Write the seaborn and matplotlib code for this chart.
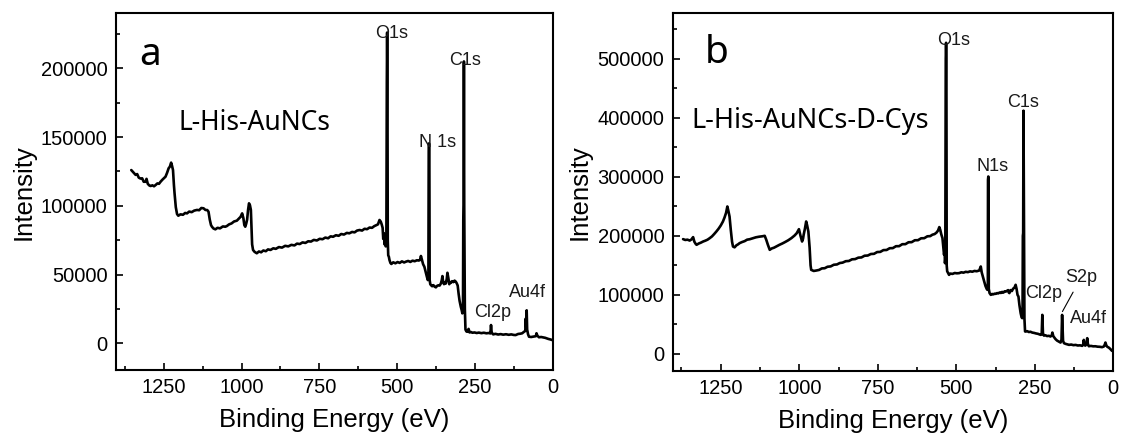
import pandas as pd
import matplotlib
matplotlib.use("Agg")
import matplotlib.pyplot as plt
from matplotlib.ticker import MultipleLocator
import seaborn as sns

# XPS survey spectrum, panel a (L-His-AuNCs): binding energy (eV) / intensity
a_energy = [1354, 1346, 1340, 1335, 1330, 1324, 1319, 1314, 1308, 1305, 1301, 1296, 1292,
            1286, 1281, 1276, 1270, 1265, 1260, 1254, 1249, 1244, 1239, 1234, 1230, 1226,
            1223, 1220, 1217, 1215, 1211, 1207, 1203, 1196, 1188, 1181, 1175, 1168, 1160,
            1152, 1143, 1136, 1129, 1122, 1116, 1110, 1106, 1102, 1098, 1095, 1090, 1084,
            1077, 1069, 1060, 1052, 1047, 1040, 1032, 1024, 1015, 1008, 1003, 998, 994, 991,
            988, 985, 982, 979, 976, 973, 970, 968, 966, 963, 958, 951, 944, 937, 930, 922,
            915, 907, 898, 890, 880, 870, 860, 850, 840, 830, 822, 813, 804, 795, 786, 777,
            768, 758, 749, 740, 731, 722, 714, 706, 697, 688, 680, 671, 662, 654, 645, 637,
            629, 621, 613, 605, 597, 589, 581, 574, 567, 562, 557, 553, 550, 547, 545, 543,
            541, 539, 537, 535, 533.5, 532.5, 531.5, 530.5, 529, 527, 525, 522, 519, 513,
            506, 499, 492, 485, 478, 472, 465, 458, 451, 444, 437, 431, 427, 424, 421, 417,
            413, 409, 405, 402, 400, 399, 398, 397, 396, 394, 392, 388, 384, 380, 376, 372,
            368, 364, 360, 357, 355, 353, 350, 347, 344, 341, 339, 336, 333, 330, 328, 324,
            320, 316, 312, 309, 306, 303, 300, 296, 293, 291, 289, 288, 287, 286, 285, 284,
            283, 281, 278, 275, 271, 268, 263, 259, 252, 245, 238, 230, 222, 214, 206, 201,
            199, 197, 195, 192, 185, 176, 168, 160, 151, 142, 134, 126, 120, 112, 105, 99,
            93, 89, 87.5, 86.5, 84.5, 83, 80, 77, 70, 62, 55, 53, 50, 45, 38, 32, 25, 15, 8, 3]
a_intensity = [126000, 124000, 122500, 123100, 120500, 119800, 120000, 117500, 117500, 119600,
               116000, 114800, 114400, 114900, 114200, 115100, 116300, 116000, 117500, 119000,
               120100, 121200, 124000, 127300, 128500, 131400, 129000, 126000, 115000, 109100,
               99000, 94000, 92800, 93800, 93500, 94800, 94500, 95800, 95400, 96500, 97000,
               96800, 98400, 98200, 97000, 96900, 95700, 90000, 86000, 84800, 83500, 82900,
               84000, 83600, 85000, 84800, 85300, 86500, 87200, 88600, 89200, 90900, 92000,
               94500, 91000, 86000, 84800, 87000, 90000, 97000, 101800, 100500, 97000, 85000,
               72000, 67900, 66500, 65500, 66800, 66200, 67500, 67000, 68300, 67900, 69100,
               68700, 70000, 69600, 70900, 70500, 71600, 71200, 72500, 72200, 73400, 73000,
               74200, 74000, 75200, 74800, 76000, 75700, 76900, 76400, 77800, 77500, 78600,
               78200, 79500, 79100, 80300, 80000, 81000, 80700, 82000, 82400, 82000, 83300,
               83000, 84200, 84000, 85200, 86000, 86500, 89700, 88500, 86500, 84000, 76000,
               80000, 72000, 76000, 70500, 74000, 190000, 226000, 190000, 75000, 64000, 63000,
               60600, 58500, 57700, 58900, 58200, 59100, 58500, 59600, 58800, 59400, 59900,
               59200, 60100, 59700, 60400, 60200, 60600, 63500, 61000, 57500, 55700, 52000,
               48500, 46000, 47000, 140000, 145400, 140000, 46000, 43000, 42400, 41500, 42300,
               41200, 40700, 41800, 42200, 42000, 43500, 46000, 48900, 45000, 43000, 44500,
               43500, 47000, 51300, 47500, 43000, 44500, 44000, 45200, 44500, 45600, 44800,
               43600, 42000, 36000, 31000, 26600, 24000, 21800, 24000, 90000, 100600, 205000,
               100000, 60000, 25000, 10000, 8600, 8400, 10500, 7900, 8200, 7700, 7900, 7500,
               7800, 7400, 7700, 7300, 7500, 7200, 13300, 8000, 7300, 6500, 6900, 6400, 6700,
               6300, 6600, 6200, 6500, 6100, 6000, 6800, 7000, 7300, 8400, 9000, 18000, 12000,
               24000, 10000, 6500, 4800, 4600, 4900, 5200, 7300, 5500, 4400, 4600, 4300, 4000,
               3200, 2800, 2400]

# panel b (L-His-AuNCs-D-Cys)
b_energy = [1370, 1363, 1356, 1349, 1343, 1338, 1334, 1330, 1327, 1320, 1313, 1306, 1299,
            1292, 1285, 1278, 1271, 1264, 1257, 1250, 1243, 1238, 1233, 1229, 1226, 1222,
            1218, 1214, 1211, 1206, 1200, 1195, 1190, 1182, 1174, 1166, 1158, 1147, 1138,
            1128, 1118, 1110, 1105, 1100, 1094, 1088, 1080, 1071, 1063, 1054, 1045, 1035,
            1025, 1015, 1008, 1001, 996, 991, 988, 986, 982, 978, 975, 971, 967, 964, 962,
            954, 946, 937, 928, 919, 910, 900, 890, 880, 871, 862, 852, 842, 832, 822, 812,
            802, 792, 782, 772, 762, 752, 742, 732, 722, 712, 702, 692, 682, 672, 662, 652,
            642, 632, 622, 612, 602, 592, 583, 576, 569, 563, 558, 554, 551, 548, 544, 541,
            539, 537, 536, 535, 533.5, 532.5, 531.5, 530.5, 529, 527, 523, 519, 512, 505, 498,
            491, 484, 477, 470, 463, 456, 449, 442, 435, 427, 424, 422, 419, 415, 411, 407,
            403, 401, 399.5, 399, 398, 397, 396.5, 394, 390, 386, 382, 378, 374, 370, 366,
            362, 358, 354, 350, 346, 342, 338, 335, 333, 331, 327, 323, 319, 315, 311, 308,
            305, 302, 299, 295, 292, 290, 289, 288, 287, 286, 285, 284, 283, 281, 279, 274,
            269, 264, 258, 252, 246, 240, 235, 231, 228, 226, 224, 221, 216, 211, 205, 200,
            196, 194, 191, 187, 184, 179, 174, 168, 165, 163, 162, 160, 157, 152, 147, 141,
            134, 127, 120, 113, 106, 99, 96, 94, 92, 89, 86, 83, 81, 78, 71, 64, 57, 50, 43,
            36, 30, 27, 25, 22, 19, 14, 9, 4]
b_intensity = [194400, 193000, 193500, 192000, 194000, 197800, 190000, 186500, 184800, 187000,
               188500, 190400, 191800, 193500, 196100, 199000, 203000, 207300, 212000, 217500,
               224300, 231000, 239000, 249700, 243000, 232700, 210000, 190000, 181900, 180500,
               184000, 185500, 187600, 189500, 191000, 193500, 194200, 196100, 197500, 198500,
               199200, 200000, 193200, 185000, 176300, 178500, 180000, 182500, 184800, 187000,
               189500, 192500, 196100, 200500, 204500, 211300, 200000, 190400, 195000, 201700,
               212000, 224300, 218000, 207300, 180000, 150000, 142400, 140500, 141200, 142200,
               144800, 145100, 147600, 148200, 151000, 151500, 153900, 154600, 157000, 157400,
               160200, 160600, 163000, 163400, 166300, 166600, 169200, 169500, 172500, 172800,
               175800, 176000, 179000, 179200, 182400, 182500, 185800, 185900, 189100, 189300,
               192500, 192600, 195800, 196000, 199200, 199500, 201900, 203000, 205500, 209000,
               214800, 210000, 203000, 196100, 180000, 168000, 175000, 153700, 160000, 500000,
               527000, 500000, 150000, 140000, 138000, 133900, 136000, 135500, 137000, 136500,
               136800, 138200, 137600, 139000, 138500, 139800, 139200, 140500, 140000, 141200,
               145000, 148000, 138000, 130000, 122500, 115000, 110000, 108500, 115000, 295000,
               300500, 295000, 110000, 103000, 100000, 101500, 100800, 102000, 101700, 103000,
               102500, 104000, 103200, 105000, 103800, 106000, 105600, 107000, 108000, 104000,
               103000, 108000, 106500, 110500, 112000, 117000, 110000, 100000, 97100, 83000,
               69000, 62000, 60500, 65000, 200000, 204600, 412000, 307000, 200000, 60000, 38000,
               37800, 38500, 37000, 37500, 36100, 35500, 34600, 34000, 33000, 32200, 33000,
               66100, 35000, 31000, 31500, 30200, 30600, 29400, 31500, 36100, 30000, 27000,
               25000, 22500, 21000, 19200, 24000, 66000, 50000, 22000, 18100, 17000, 16200,
               15300, 15800, 14800, 15200, 14200, 14500, 13600, 16000, 23700, 15000, 14000,
               16000, 26600, 17000, 13000, 13500, 12800, 12900, 12200, 12000, 11400, 12500,
               16000, 19200, 14000, 12000, 10500, 8000, 5100]

a_peaks = ["O1s", "C1s", "N 1s", "Cl2p", "Au4f"]
b_peaks = ["O1s", "C1s", "N1s", "Cl2p", "S2p", "Au4f"]

TICK_FONT = ["Liberation Sans", "DejaVu Sans"]
LABEL_FONT = ["Noto Sans", "DejaVu Sans"]


def style_axes(ax, ymajor, yminor, ylim):
    ax.set_xlim(1403, 0)
    ax.set_ylim(*ylim)
    ax.xaxis.set_major_locator(MultipleLocator(250))
    ax.xaxis.set_minor_locator(MultipleLocator(125))
    ax.yaxis.set_major_locator(MultipleLocator(ymajor))
    ax.yaxis.set_minor_locator(MultipleLocator(yminor))
    ax.ticklabel_format(axis="y", style="plain", useOffset=False)
    ax.tick_params(which="both", direction="in", bottom=True, left=True,
                   top=False, right=False, width=1.2, labelsize=14.5, pad=6,
                   colors="black")
    ax.tick_params(which="major", length=5)
    ax.tick_params(which="minor", length=3)
    for s in ax.spines.values():
        s.set_linewidth(1.5)
        s.set_color("black")
    ax.set_xlabel("Binding Energy (eV)", fontsize=18.5, labelpad=8, color="black")
    ax.set_ylabel("Intensity", fontsize=18.5, labelpad=4, color="black")
    ax.grid(False)


def draw_panel(ax, energy, intensity):
    df = pd.DataFrame({"energy": energy, "intensity": intensity})
    sns.lineplot(data=df, x="energy", y="intensity", estimator=None, sort=False,
                 color="black", linewidth=1.9, ax=ax)


def main():
    sns.set_style("white")
    plt.rcParams["font.family"] = TICK_FONT
    plt.rcParams["text.color"] = "black"

    fig = plt.figure(figsize=(11.21, 4.37), dpi=100)
    ax1 = fig.add_axes([116 / 1121, 1 - 370 / 437, (553 - 116) / 1121, (370 - 13.3) / 437])
    ax2 = fig.add_axes([672.7 / 1121, 1 - 371 / 437, (1113.3 - 672.7) / 1121, (371 - 12.7) / 437])

    # panel a
    draw_panel(ax1, a_energy, a_intensity)
    style_axes(ax1, 50000, 25000, (-19400, 240000))
    ax1.text(1327, 202400, "a", fontsize=28, family=LABEL_FONT)
    ax1.text(1201, 155100, "L-His-AuNCs", fontsize=19, family=LABEL_FONT)
    a_pos = [(518, 222000), (282, 202400), (372, 143000), (193, 19300), (82, 33900)]
    for name, (x, y) in zip(a_peaks, a_pos):
        ax1.text(x, y, name, fontsize=13, ha="center", color="#1a1a1a")

    # panel b
    draw_panel(ax2, b_energy, b_intensity)
    style_axes(ax2, 100000, 50000, (-29000, 578000))
    ax2.text(1302, 492700, "b", fontsize=28, family=LABEL_FONT)
    ax2.text(1342, 383100, "L-His-AuNCs-D-Cys", fontsize=19.5, family=LABEL_FONT)
    b_pos = [(510, 523700), (287, 419000), (384, 309000), (221, 95000), (103, 122500), (79, 52500)]
    for name, (x, y) in zip(b_peaks, b_pos):
        ax2.text(x, y, name, fontsize=13, ha="center", color="#1a1a1a")
    ax2.plot([128, 162], [104600, 71700], color="black", linewidth=0.8)

    fig.savefig("out.png", dpi=100)
    plt.close(fig)


if __name__ == "__main__":
    main()
